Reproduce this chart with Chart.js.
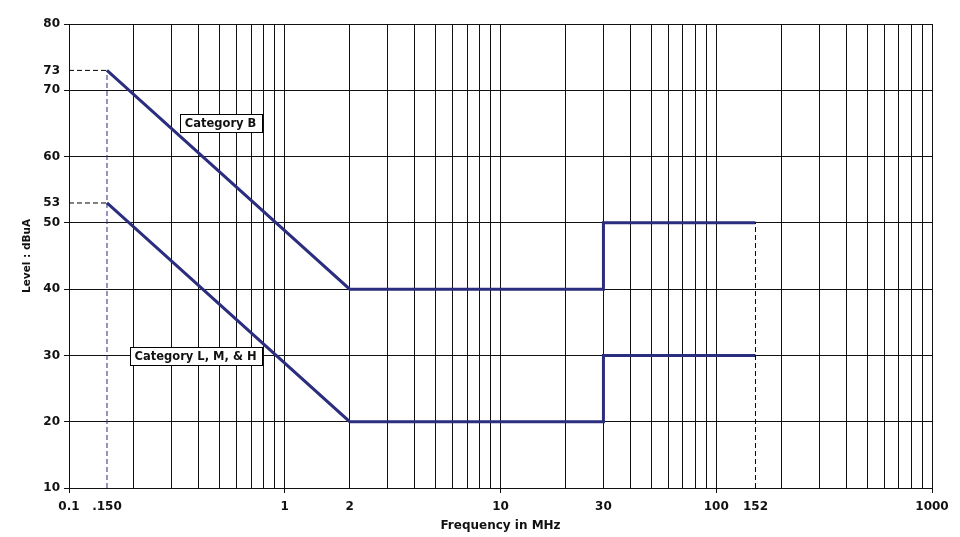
<!DOCTYPE html>
<html>
<head>
<meta charset="utf-8">
<script src="https://cdn.jsdelivr.net/npm/chart.js@4/dist/chart.umd.min.js"></script>
<style>
  html, body { margin: 0; padding: 0; background: #fff; }
  #wrap { width: 960px; height: 537px; }
</style>
</head>
<body>
<div id="wrap"><canvas id="grafico" width="960" height="537"></canvas></div>
<script>
// limit lines (frequency in MHz, level in dBuA)
const catBFreq = [0.15, 2, 30, 30, 152];
const catBLevel = [73, 40, 40, 50, 50];
const catLFreq = [0.15, 2, 30, 30, 152];
const catLLevel = [53, 20, 20, 30, 30];

// axis ticks
const xLabelValues = [0.1, 0.15, 1, 2, 10, 30, 100, 152, 1000];
const xLabelTexts = ['0.1', '.150', '1', '2', '10', '30', '100', '152', '1000'];
const xDecades = [0.1, 1, 10, 100, 1000];
const yGridValues = [10, 20, 30, 40, 50, 60, 70, 80];
const yMarkValues = [53, 73];

// callout labels
const calloutTexts = ['Category B', 'Category L, M, & H'];
const calloutAt = [{ x: 0.504, y: 65 }, { x: 0.386, y: 29.85 }];

const NAVY = '#2b2e7e';
const FONT = "'DejaVu Sans', Arial, sans-serif";

// all minor gridlines of the log axis (1..9 x 10^n)
const xGridValues = [];
xDecades.slice(0, -1).forEach(d => {
    for (let k = 1; k <= 9; k++) xGridValues.push(+(d * k).toPrecision(3));
});
xGridValues.push(1000);

const xTickValues = [...new Set([...xGridValues, ...xLabelValues])].sort((a, b) => a - b);
const yTickValues = [...yGridValues, ...yMarkValues].sort((a, b) => a - b);

const clear = 'rgba(0,0,0,0)';

const calloutPlugin = {
    id: 'callouts',
    afterDatasetsDraw(chart) {
        const ctx = chart.ctx;
        const xs = chart.scales.x, ys = chart.scales.y;
        ctx.save();
        ctx.font = 'bold 11.5px ' + FONT;
        ctx.textAlign = 'center';
        ctx.textBaseline = 'middle';
        calloutTexts.forEach((t, i) => {
            const cx = xs.getPixelForValue(calloutAt[i].x);
            const cy = ys.getPixelForValue(calloutAt[i].y);
            const w = Math.round(ctx.measureText(t).width + 10);
            const h = 18;
            const left = Math.round(cx - w / 2), top = Math.round(cy - h / 2);
            ctx.fillStyle = '#fff';
            ctx.fillRect(left, top, w, h);
            ctx.strokeStyle = '#000';
            ctx.lineWidth = 1;
            ctx.strokeRect(left + 0.5, top + 0.5, w, h);
            ctx.fillStyle = '#111';
            ctx.fillText(t, cx, cy + 1);
        });
        ctx.restore();
    }
};

function pts(xs, ys) {
    return xs.map((x, i) => ({ x: x, y: ys[i] }));
}

const startF = catBFreq[0];
const endF = catBFreq[catBFreq.length - 1];

new Chart(document.getElementById('grafico'), {
    type: 'scatter',
    data: {
        datasets: [
            { data: pts([xDecades[0], startF], [catBLevel[0], catBLevel[0]]), borderColor: '#000', borderWidth: 1, borderDash: [5, 3] },
            { data: pts([xDecades[0], startF], [catLLevel[0], catLLevel[0]]), borderColor: '#000', borderWidth: 1, borderDash: [5, 3] },
            { data: pts([startF, startF], [yGridValues[0], catBLevel[0]]), borderColor: NAVY, borderWidth: 1, borderDash: [5, 3] },
            { data: pts([endF, endF], [yGridValues[0], catBLevel[catBLevel.length - 1]]), borderColor: '#000', borderWidth: 1, borderDash: [5, 3] },
            { label: 'Category B', data: pts(catBFreq, catBLevel), borderColor: NAVY, borderWidth: 3 },
            { label: 'Category L, M, & H', data: pts(catLFreq, catLLevel), borderColor: NAVY, borderWidth: 3 }
        ].map(d => Object.assign({ showLine: true, pointRadius: 0, fill: false, tension: 0 }, d))
    },
    options: {
        responsive: false,
        animation: false,
        devicePixelRatio: 1,
        layout: { padding: { left: 0, top: 24, right: 28, bottom: 0 } },
        plugins: { legend: { display: false }, tooltip: { enabled: false } },
        scales: {
            x: {
                type: 'logarithmic',
                min: 0.1,
                max: 1000,
                afterBuildTicks: s => { s.ticks = xTickValues.map(v => ({ value: v })); },
                afterFit: s => { s.height = 49; },
                grid: {
                    color: c => (c.tick && xGridValues.includes(c.tick.value)) ? '#111' : clear,
                    tickColor: c => (c.tick && xDecades.includes(c.tick.value)) ? '#111' : clear,
                    tickLength: 5,
                    lineWidth: 1
                },
                border: { display: true, color: '#111', width: 1 },
                ticks: {
                    autoSkip: false,
                    maxRotation: 0,
                    padding: 7,
                    color: '#111',
                    font: { family: FONT, size: 12, weight: 'bold' },
                    callback: v => {
                        const i = xLabelValues.indexOf(v);
                        return i >= 0 ? xLabelTexts[i] : '';
                    }
                },
                title: {
                    display: true,
                    text: 'Frequency in MHz',
                    color: '#111',
                    font: { family: FONT, size: 12, weight: 'bold' },
                    padding: { top: 4, bottom: 4 }
                }
            },
            y: {
                min: 10,
                max: 80,
                afterBuildTicks: s => { s.ticks = yTickValues.map(v => ({ value: v })); },
                afterFit: s => { s.width = 69; },
                grid: {
                    color: c => (c.tick && yGridValues.includes(c.tick.value)) ? '#111' : clear,
                    tickColor: c => (c.tick && yGridValues.includes(c.tick.value)) ? '#111' : clear,
                    tickLength: 5,
                    lineWidth: 1
                },
                border: { display: true, color: '#111', width: 1 },
                ticks: {
                    autoSkip: false,
                    padding: 4,
                    color: '#111',
                    font: { family: FONT, size: 12, weight: 'bold' },
                    callback: v => String(v)
                },
                title: {
                    display: true,
                    text: 'Level : dBuA',
                    color: '#111',
                    font: { family: FONT, size: 10.5, weight: 'bold' },
                    padding: { top: 21, bottom: 0 }
                }
            }
        }
    },
    plugins: [calloutPlugin]
});
</script>
</body>
</html>
